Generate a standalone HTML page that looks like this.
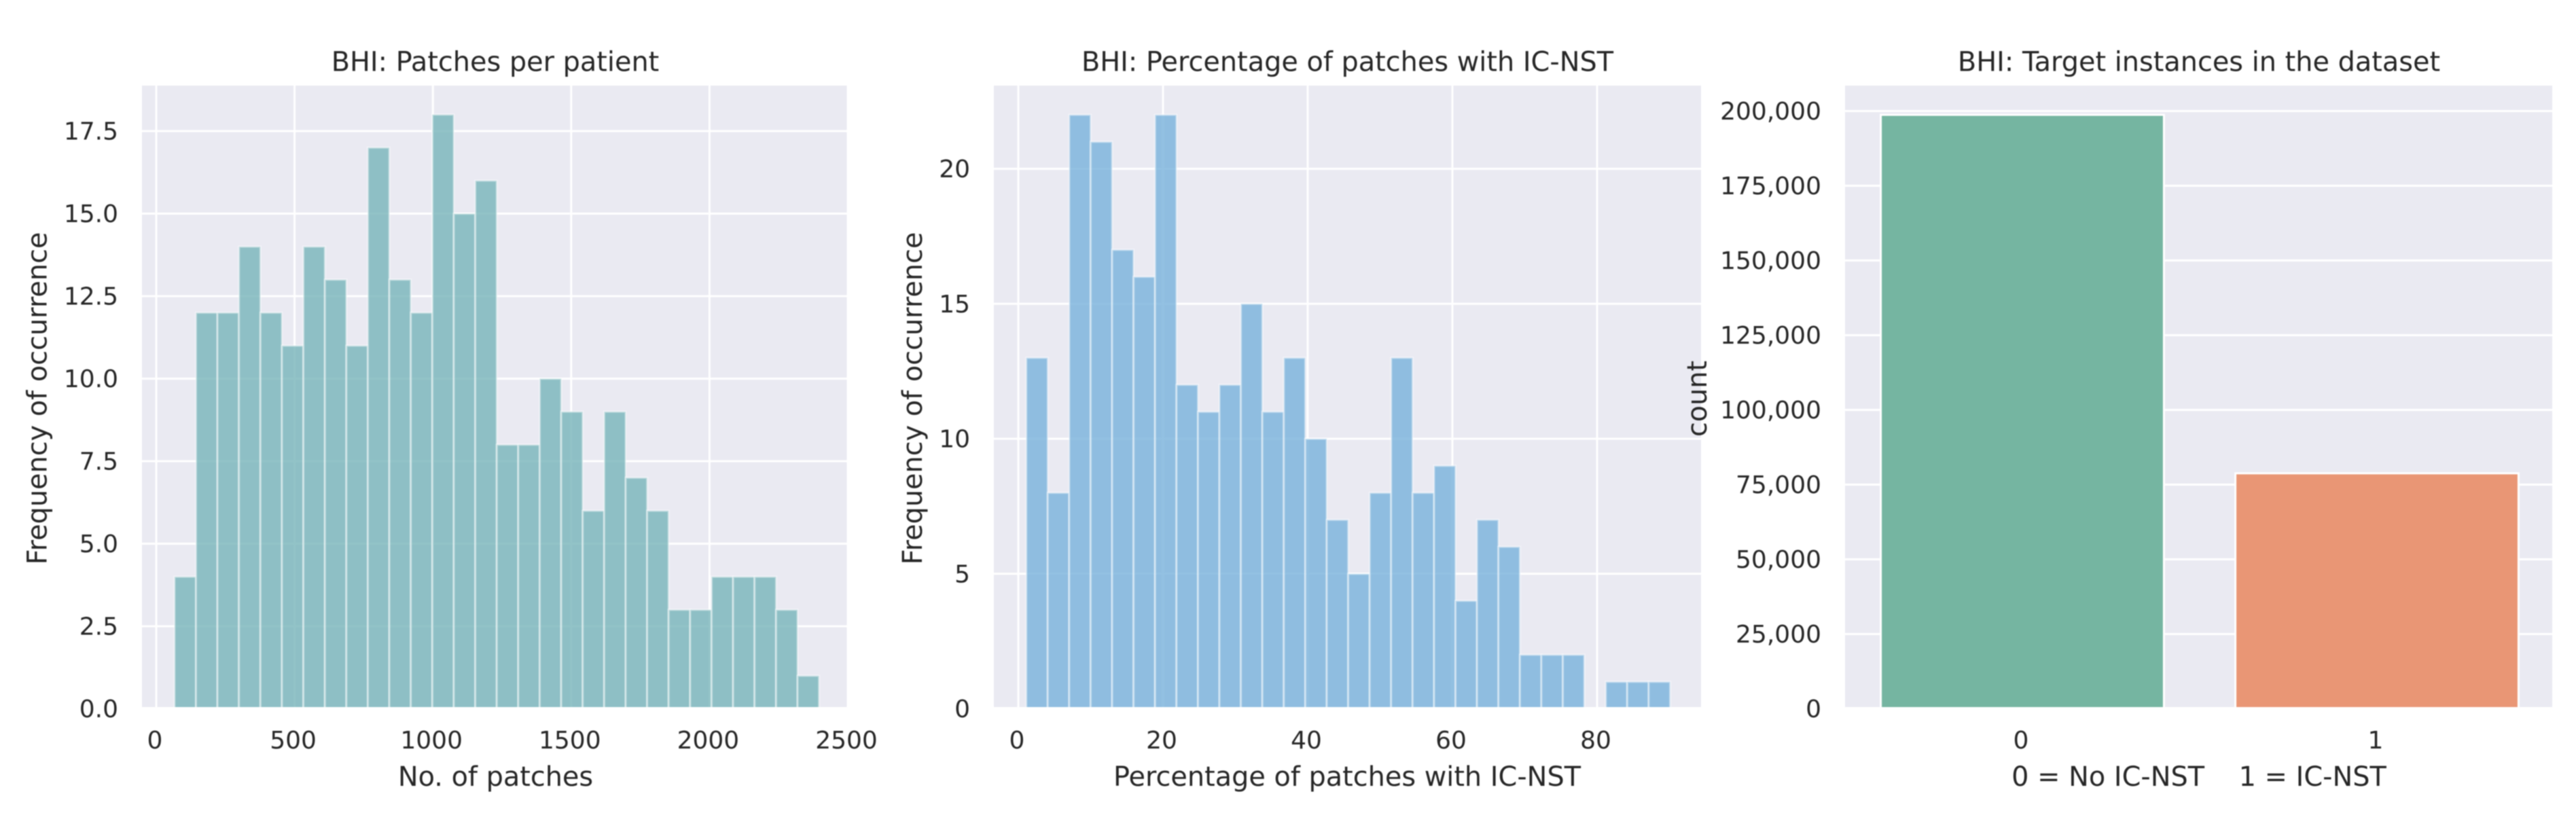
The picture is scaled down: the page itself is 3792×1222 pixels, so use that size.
<!DOCTYPE html>
<html lang="en">
<head>
<meta charset="utf-8">
<title>BHI dataset charts</title>
<style>
html,body{margin:0;padding:0;background:#fff;}
body{width:3792px;height:1222px;overflow:hidden;}
svg{display:block;}
text{font-family:"DejaVu Sans","Liberation Sans",sans-serif;fill:#262626;white-space:pre;}
.title,.axis-label{font-size:39.8px;}
.tick{font-size:36px;}
#soft{filter:blur(0.85px);}
</style>
</head>
<body>
<svg id="chart" xmlns="http://www.w3.org/2000/svg" width="3792" height="1222" viewBox="0 0 3792 1222">
  <defs>
    <clipPath id="clip1"><rect x="209" y="126" width="1039" height="915"/></clipPath>
    <clipPath id="clip2"><rect x="1463" y="126" width="1041" height="915"/></clipPath>
    <clipPath id="clip3"><rect x="2716" y="126" width="1041" height="915"/></clipPath>
  </defs>
  <g id="soft">
    <g id="panel1">
      <rect x="209" y="126" width="1039" height="915" fill="#eaeaf2"/>
      <g id="grid1" clip-path="url(#clip1)"></g>
      <g id="bars1" clip-path="url(#clip1)"></g>
      <g id="ticks1"></g>
      <text class="title" x="729" y="104.5" text-anchor="middle">BHI: Patches per patient</text>
      <text class="axis-label" x="729.5" y="1157" text-anchor="middle">No. of patches</text>
      <text class="axis-label" transform="translate(68.5,586.5) rotate(-90)" text-anchor="middle">Frequency of occurrence</text>
    </g>
    <g id="panel2">
      <rect x="1463" y="126" width="1041" height="915" fill="#eaeaf2"/>
      <g id="grid2" clip-path="url(#clip2)"></g>
      <g id="bars2" clip-path="url(#clip2)"></g>
      <g id="ticks2"></g>
      <text class="title" x="1983.5" y="104.5" text-anchor="middle">BHI: Percentage of patches with IC-NST</text>
      <text class="axis-label" x="1983" y="1157" text-anchor="middle">Percentage of patches with IC-NST</text>
      <text class="axis-label" transform="translate(1357,586.5) rotate(-90)" text-anchor="middle">Frequency of occurrence</text>
    </g>
    <g id="panel3">
      <rect x="2716" y="126" width="1041" height="915" fill="#eaeaf2"/>
      <g id="grid3" clip-path="url(#clip3)"></g>
      <g id="bars3" clip-path="url(#clip3)"></g>
      <g id="ticks3"></g>
      <text class="title" x="3237" y="104.5" text-anchor="middle">BHI: Target instances in the dataset</text>
      <text class="axis-label" x="3237" y="1157" text-anchor="middle" xml:space="preserve">0 = No IC-NST    1 = IC-NST</text>
      <text class="axis-label" transform="translate(2512,587) rotate(-90)" text-anchor="middle">count</text>
    </g>
  </g>
</svg>
<script>
// Panel 1 data
const patchCounts = [4,12,12,14,12,11,14,13,11,17,13,12,18,15,16,8,8,10,9,6,9,7,6,3,3,4,4,4,3,1];
const patchBinStart = 66;
const patchBinEnd = 2396;
const patchXTicks = [0,500,1000,1500,2000,2500];
const patchYTicks = [0,2.5,5,7.5,10,12.5,15,17.5];
const patchYTickLabels = ["0.0","2.5","5.0","7.5","10.0","12.5","15.0","17.5"];

// Panel 2 data
const percentCounts = [13,8,22,21,17,16,22,12,11,12,15,11,13,10,7,5,8,13,8,9,4,7,6,2,2,2,0,1,1,1];
const percentBinStart = 1.1;
const percentBinEnd = 90.1;
const percentXTicks = [0,20,40,60,80];
const percentYTicks = [0,5,10,15,20];

// Panel 3 data
const targetCategories = ["0","1"];
const targetCounts = [198738,78786];
const targetColors = ["#75b5a1","#e99675"];
const targetYTicks = [0,25000,50000,75000,100000,125000,150000,175000,200000];

const NS = "http://www.w3.org/2000/svg";
const ZERO_Y = 1043.5;
const PLOT_BOTTOM = 1041;

function x1(v){ return 230 + v * 0.4072; }
function y1(v){ return ZERO_Y - v * 48.6; }
function x2(v){ return 1499 + v * 10.65; }
function y2(v){ return ZERO_Y - v * 39.75; }
function x3(i){ return 2977 + i * 522; }
function y3(v){ return ZERO_Y - v * 0.0044; }

function gridLine(parent, a, b, c, d){
  const l = document.createElementNS(NS, "line");
  l.setAttribute("x1", a); l.setAttribute("y1", b);
  l.setAttribute("x2", c); l.setAttribute("y2", d);
  l.setAttribute("stroke", "#ffffff");
  l.setAttribute("stroke-width", "3");
  
  
  parent.appendChild(l);
}
function tickLabel(parent, str, x, y, anchor, name){
  const t = document.createElementNS(NS, "text");
  t.setAttribute("class", "tick");
  t.setAttribute("x", x);
  t.setAttribute("y", y);
  t.setAttribute("text-anchor", anchor);
  t.textContent = str;
  
  
  parent.appendChild(t);
}
function histBars(parent, counts, start, end, xs, ys, fill){
  const step = (end - start) / counts.length;
  counts.forEach(function(c, i){
    if (c === 0) return;
    const r = document.createElementNS(NS, "rect");
    const left = xs(start + step * i), right = xs(start + step * (i + 1)), top = ys(c);
    r.setAttribute("x", left);
    r.setAttribute("y", top);
    r.setAttribute("width", right - left);
    r.setAttribute("height", ZERO_Y - top);
    r.setAttribute("fill", fill);
    r.setAttribute("fill-opacity", "0.8");
    r.setAttribute("stroke", "#ffffff");
    r.setAttribute("stroke-opacity", "0.45");
    r.setAttribute("stroke-width", "3");
    
    
    parent.appendChild(r);
  });
}
const commaFormat = function(v){ return v.toLocaleString("en-US"); };
const el = function(id){ return document.getElementById(id); };

// Panel 1
patchXTicks.forEach(function(v){
  gridLine(el("grid1"), x1(v), 126, x1(v), PLOT_BOTTOM);
  tickLabel(el("ticks1"), String(v), x1(v) - 2, 1102, "middle", "x-tick-label");
});
patchYTicks.forEach(function(v, i){
  gridLine(el("grid1"), 209, y1(v), 1248, y1(v));
  tickLabel(el("ticks1"), patchYTickLabels[i], 174, y1(v) + 12.5, "end", "y-tick-label");
});
histBars(el("bars1"), patchCounts, patchBinStart, patchBinEnd, x1, y1, "rgb(119,180,185)");

// Panel 2
percentXTicks.forEach(function(v){
  gridLine(el("grid2"), x2(v), 126, x2(v), PLOT_BOTTOM);
  tickLabel(el("ticks2"), String(v), x2(v) - 2, 1102, "middle", "x-tick-label");
});
percentYTicks.forEach(function(v){
  gridLine(el("grid2"), 1463, y2(v), 2504, y2(v));
  tickLabel(el("ticks2"), String(v), 1428, y2(v) + 12.5, "end", "y-tick-label");
});
histBars(el("bars2"), percentCounts, percentBinStart, percentBinEnd, x2, y2, "rgb(120,178,219)");

// Panel 3
targetYTicks.forEach(function(v){
  gridLine(el("grid3"), 2716, y3(v), 3757, y3(v));
  tickLabel(el("ticks3"), commaFormat(v), 2681, y3(v) + 12.5, "end", "y-tick-label");
});
targetCategories.forEach(function(c, i){
  const half = 0.4 * 521;
  const top = y3(targetCounts[i]);
  const r = document.createElementNS(NS, "rect");
  r.setAttribute("x", x3(i) - half);
  r.setAttribute("y", top);
  r.setAttribute("width", half * 2);
  r.setAttribute("height", ZERO_Y - top);
  r.setAttribute("fill", targetColors[i]);
  r.setAttribute("stroke", "#ffffff");
  r.setAttribute("stroke-width", "3");
  
  
  el("bars3").appendChild(r);
  tickLabel(el("ticks3"), c, x3(i) - 2, 1102, "middle", "x-tick-label");
});
</script>
</body>
</html>
